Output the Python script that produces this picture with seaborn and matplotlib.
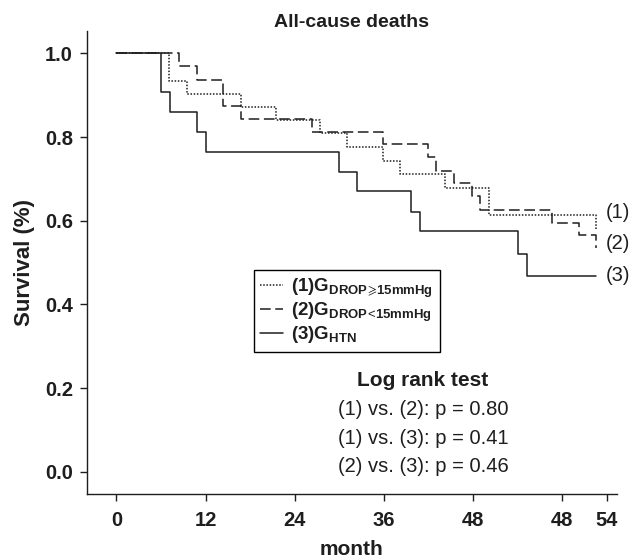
import pandas as pd
import matplotlib
matplotlib.use("Agg")
import matplotlib.pyplot as plt
import seaborn as sns

# survival steps (month, survival fraction)
months_1 = [0, 7.1, 9.5, 16.8, 21.5, 27.4, 31.1, 35.9, 38.2, 44.2, 50.2, 64.6]
surv_1 = [1.0, 0.935, 0.904, 0.871, 0.841, 0.809, 0.776, 0.743, 0.711, 0.679, 0.614, 0.579]

months_2 = [0, 8.4, 10.8, 14.4, 16.8, 26.3, 35.9, 41.9, 43.0, 45.5, 47.8, 49.0, 58.6, 62.2, 64.6]
surv_2 = [1.0, 0.969, 0.937, 0.875, 0.843, 0.812, 0.783, 0.753, 0.720, 0.690, 0.659, 0.625,
          0.595, 0.566, 0.534]

months_3 = [0, 6.0, 7.2, 10.8, 12.0, 29.9, 32.4, 39.6, 40.8, 54.0, 55.2, 64.6]
surv_3 = [1.0, 0.908, 0.860, 0.813, 0.765, 0.717, 0.670, 0.622, 0.575, 0.521, 0.468, 0.468]

groups = ["1", "2", "3"]
legend_labels = [
    r"(1)G$_{\mathbf{DROP}\!\geqslant\!\mathbf{15mmHg}}$",
    r"(2)G$_{\mathbf{DROP}\!<\!\mathbf{15mmHg}}$",
    r"(3)G$_{\mathbf{HTN}}$",
]
end_labels = ["(1)", "(2)", "(3)"]
end_label_y = [0.62, 0.545, 0.47]

xtick_pos = [0, 12, 24, 36, 48, 60, 66]
xtick_labels = ["0", "12", "24", "36", "48", "48", "54"]

logrank_title = "Log rank test"
logrank_lines = ["(1) vs. (2): p = 0.80", "(1) vs. (3): p = 0.41", "(2) vs. (3): p = 0.46"]

df = pd.concat([
    pd.DataFrame({"month": months_1, "survival": surv_1, "group": "1"}),
    pd.DataFrame({"month": months_2, "survival": surv_2, "group": "2"}),
    pd.DataFrame({"month": months_3, "survival": surv_3, "group": "3"}),
], ignore_index=True)

sns.set_style("ticks")
plt.rcParams["font.family"] = ["Liberation Sans", "DejaVu Sans"]
plt.rcParams["mathtext.fontset"] = "custom"
plt.rcParams["mathtext.rm"] = "Liberation Sans"
plt.rcParams["mathtext.bf"] = "Liberation Sans:bold"
plt.rcParams["mathtext.fallback"] = "stixsans"

ink = "#1e1e1e"

fig = plt.figure(figsize=(6.33, 5.6), dpi=100)
ax = fig.add_axes([0.137, 0.117, 0.838, 0.828])

sns.lineplot(
    data=df, x="month", y="survival", hue="group", style="group",
    hue_order=groups, style_order=groups,
    palette=[ink] * 3,
    dashes={"1": (1, 1.1), "2": (7, 3), "3": ""},
    drawstyle="steps-post", estimator=None, sort=False,
    linewidth=1.1, legend=False, ax=ax,
)

ax.set_xlim(-4.0, 67.4)
ax.set_ylim(-0.0545, 1.054)
ax.set_xticks(xtick_pos)
ax.set_xticklabels(xtick_labels)
ax.set_yticks([0.0, 0.2, 0.4, 0.6, 0.8, 1.0])
ax.set_yticklabels(["0.0", "0.2", "0.4", "0.6", "0.8", "1.0"])

for lab in ax.get_xticklabels() + ax.get_yticklabels():
    lab.set_fontweight("bold")
    lab.set_fontsize(14.5)
    lab.set_color(ink)
ax.tick_params(axis="both", length=5.3, width=1.0, color=ink)
ax.tick_params(axis="x", pad=6.5)
ax.tick_params(axis="y", pad=4.5)

sns.despine(ax=ax)
for side in ["left", "bottom"]:
    ax.spines[side].set_linewidth(1.0)
    ax.spines[side].set_color(ink)

ax.set_xlabel("month", fontsize=15, fontweight="bold", color=ink, labelpad=7)
ax.set_ylabel("Survival (%)", fontsize=16, fontweight="bold", color=ink, labelpad=7)
ax.set_title("All-cause deaths", fontsize=14, fontweight="bold", color=ink, pad=3)

leg = ax.legend(
    handles=ax.get_lines()[:3], labels=legend_labels,
    loc="upper left", bbox_to_anchor=(0.315, 0.484), borderaxespad=0,
    frameon=True, fancybox=False, framealpha=1, edgecolor="black",
    prop={"weight": "bold", "size": 13.5},
    handlelength=1.2, handletextpad=0.45, labelspacing=0.02, borderpad=0.35,
)
leg.get_frame().set_linewidth(1.0)
for t in leg.get_texts():
    t.set_color(ink)

for lab, yv in zip(end_labels, end_label_y):
    ax.text(65.9, yv, lab, fontsize=14.5, ha="left", va="center", color=ink)

ax.text(41.25, 0.2175, logrank_title, fontsize=15, fontweight="bold",
        ha="center", va="center", color=ink)
for i, line in enumerate(logrank_lines):
    ax.text(41.25, 0.1475 - i * 0.067, line, fontsize=14.5,
            ha="center", va="center", color=ink)

fig.savefig("out.png", dpi=100)
